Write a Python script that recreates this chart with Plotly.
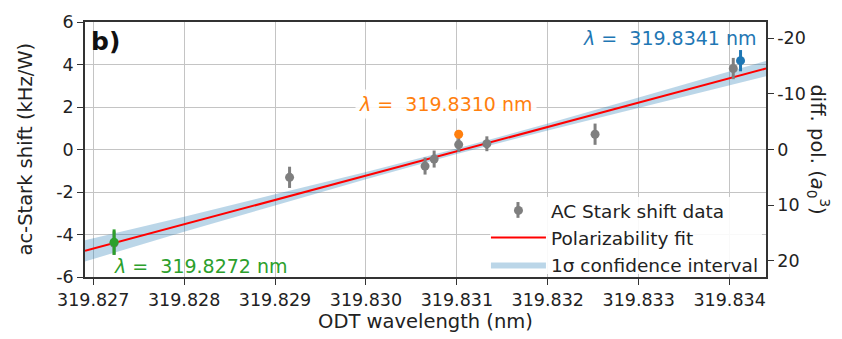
import plotly.graph_objects as go

# ---- data ----
data_x = [319.82723, 319.82916, 319.83065, 319.83075, 319.83102, 319.83133, 319.83252, 319.83404]
data_y = [-4.40, -1.31, -0.78, -0.45, 0.23, 0.27, 0.72, 3.81]
data_err = [0.55, 0.5, 0.4, 0.4, 0.35, 0.35, 0.5, 0.5]

green_x, green_y, green_err = [319.82723], [-4.36], [0.6]
orange_x, orange_y, orange_err = [319.83102], [0.72], [0.15]
blue_x, blue_y, blue_err = [319.83412], [4.18], [0.5]

fit_x = [319.82691, 319.83440]
fit_y = [-4.77, 3.81]

band_x = [319.82691, 319.8280, 319.8290, 319.8300, 319.8310, 319.8320, 319.8330, 319.83440]
band_hi = [-4.27, -3.17, -2.11, -1.06, 0.05, 1.22, 2.45, 4.17]
band_lo = [-5.27, -3.87, -2.63, -1.40, -0.21, 0.90, 1.97, 3.45]

xticks = [319.827, 319.828, 319.829, 319.830, 319.831, 319.832, 319.833, 319.834]
xticklabels = ["319.827", "319.828", "319.829", "319.830", "319.831", "319.832", "319.833", "319.834"]
yticks = [-6, -4, -2, 0, 2, 4, 6]
yticklabels = ["-6", "-4", "-2", "0", "2", "4", "6"]
y2ticks = [-20, -10, 0, 10, 20]
y2ticklabels = ["-20", "-10", "0", "10", "20"]

FONT = "DejaVu Sans"
TXT = "#222222"
GRAY = "#7f7f7f"
TICK = 17.5
BIG = 19.5

fig = go.Figure()

# confidence band
fig.add_trace(go.Scatter(
    x=band_x + band_x[::-1], y=band_hi + band_lo[::-1],
    fill="toself", fillcolor="rgba(31,119,180,0.3)", line=dict(width=0),
    mode="lines", name="1σ confidence interval", legendrank=3, hoverinfo="skip"))

# fit
fig.add_trace(go.Scatter(x=fit_x, y=fit_y, mode="lines", line=dict(color="#ff0000", width=2),
                         name="Polarizability fit", legendrank=2))

# data
fig.add_trace(go.Scatter(x=data_x, y=data_y, mode="markers",
                         marker=dict(color=GRAY, size=9),
                         error_y=dict(type="data", array=data_err, color=GRAY, thickness=3, width=0),
                         name="AC Stark shift data", legendrank=1))

for xs, ys, es, c in [(green_x, green_y, green_err, "#2ca02c"),
                      (orange_x, orange_y, orange_err, "#ff7f0e"),
                      (blue_x, blue_y, blue_err, "#1f77b4")]:
    fig.add_trace(go.Scatter(x=xs, y=ys, mode="markers", marker=dict(color=c, size=9),
                             error_y=dict(type="data", array=es, color=c, thickness=3, width=0),
                             showlegend=False))

# invisible trace for right axis
fig.add_trace(go.Scatter(x=fit_x, y=[0, 0], yaxis="y2", mode="lines",
                         line=dict(width=0), showlegend=False, hoverinfo="skip"))

axis_common = dict(showline=True, linecolor="#333333", linewidth=1.5, ticks="outside",
                   ticklen=6, tickcolor="#333333", tickwidth=1.2,
                   tickfont=dict(family=FONT, size=TICK, color=TXT), zeroline=False)

fig.update_layout(
    width=842, height=339,
    margin=dict(l=85, r=76, t=15, b=58),
    paper_bgcolor="white", plot_bgcolor="white",
    font=dict(family=FONT, size=TICK, color=TXT),
    showlegend=True,
    legend=dict(x=0.997, y=-0.027, xanchor="right", yanchor="bottom",
                bgcolor="rgba(255,255,255,0)", borderwidth=0,
                font=dict(family=FONT, size=BIG - 1, color=TXT), tracegroupgap=0,
                traceorder="normal", itemwidth=55),
    xaxis=dict(range=[319.82691, 319.83440], tickvals=xticks, ticktext=xticklabels,
               showgrid=True, gridcolor="#c4c4c4", gridwidth=1.2, mirror=True,
               title=dict(text="ODT wavelength (nm)", font=dict(family=FONT, size=BIG, color=TXT),
                          standoff=4),
               **axis_common),
    yaxis=dict(range=[-6, 6], tickvals=yticks, ticktext=yticklabels,
               showgrid=True, gridcolor="#c4c4c4", gridwidth=1.2, mirror=True,
               **axis_common),
    yaxis2=dict(range=[22.9, -22.9], tickvals=y2ticks, ticktext=y2ticklabels,
                overlaying="y", side="right", showgrid=False, **axis_common),
    shapes=[
        # legend background panel
        dict(type="rect", xref="paper", yref="paper", x0=0.595, x1=0.994, y0=0.012, y1=0.314,
             fillcolor="rgba(255,255,255,0.9)", line=dict(width=0), layer="above"),
        # error-bar stroke of the legend symbol
        dict(type="line", xref="paper", yref="paper", x0=0.6358, x1=0.6358, y0=0.232, y1=0.294,
             line=dict(color=GRAY, width=3), layer="above"),
    ],
    annotations=[
        dict(text="<b>b)</b>", xref="paper", yref="paper", x=0.006, y=0.99,
             xanchor="left", yanchor="top", showarrow=False,
             font=dict(family=FONT, size=25, color="#111111")),
        dict(text="<i>λ</i> =  319.8341 nm", xref="x", yref="y", x=319.83237, y=5.24,
             xanchor="left", yanchor="middle", showarrow=False,
             font=dict(family=FONT, size=BIG - 0.5, color="#1f77b4")),
        dict(text="<i>λ</i> =  319.8310 nm", xref="x", yref="y", x=319.82988, y=2.12,
             xanchor="left", yanchor="middle", showarrow=False, bgcolor="rgba(255,255,255,0.9)",
             borderpad=3,
             font=dict(family=FONT, size=BIG - 0.5, color="#ff7f0e")),
        dict(text="<i>λ</i> =  319.8272 nm", xref="x", yref="y", x=319.82721, y=-5.49,
             xanchor="left", yanchor="middle", showarrow=False,
             font=dict(family=FONT, size=BIG - 0.5, color="#2ca02c")),
        dict(text="ac-Stark shift (kHz/W)", xref="paper", yref="paper", x=-0.088, y=0.5,
             xanchor="center", yanchor="middle", textangle=-90, showarrow=False,
             font=dict(family=FONT, size=BIG, color=TXT)),
        dict(text="diff. pol. (<i>a</i><sub>0</sub><sup>3</sup>)", xref="paper", yref="paper",
             x=1.078, y=0.5, xanchor="center", yanchor="middle", textangle=90, showarrow=False,
             font=dict(family=FONT, size=BIG, color=TXT)),
    ],
)

fig.write_html("out.html")
